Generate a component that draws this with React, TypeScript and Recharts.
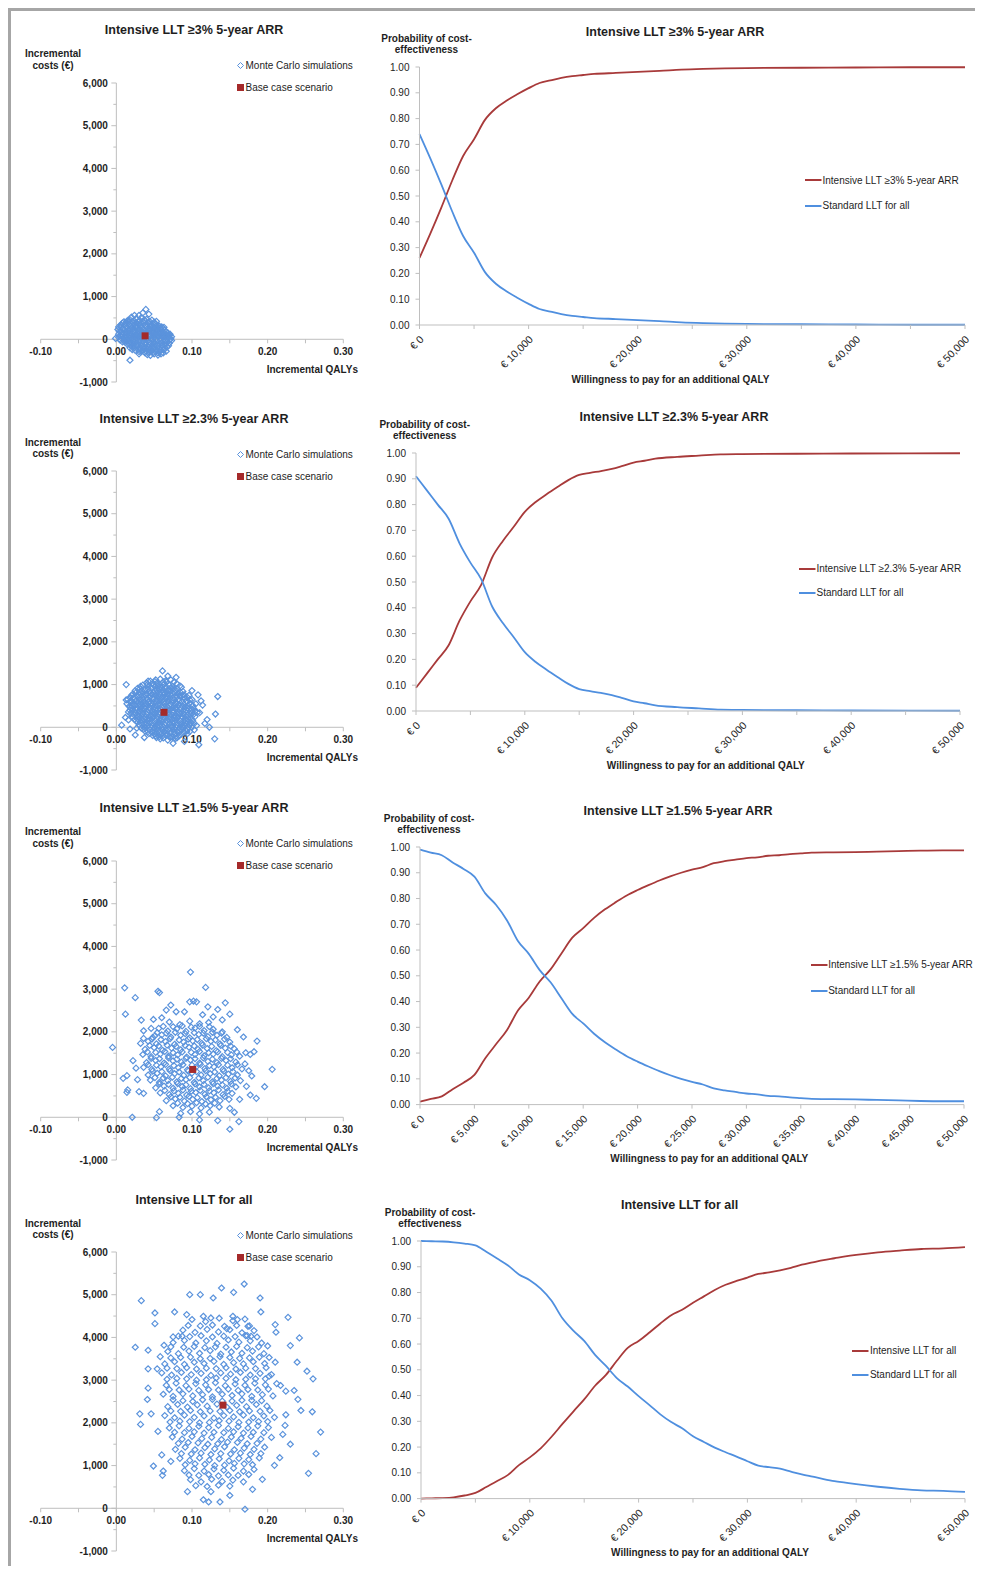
import React from 'react';
import {
  ScatterChart, Scatter, XAxis, YAxis, ReferenceLine, ReferenceDot,
  LineChart, Line, Legend,
} from 'recharts';

const FONT = '"Liberation Sans", Arial, Helvetica, sans-serif';
const RED = '#a83a3a';
const BLUE = '#4f8fdf';
const DOT_BLUE = '#5b93dc';
const BASE_RED = '#a52a2a';
const AXIS = '#bfbfbf';
const TEXT = '#1e1e1e';

// ---------- Axis ticks ----------
const qalyTicks = [-0.1, -0.05, 0, 0.05, 0.1, 0.15, 0.2, 0.25, 0.3];
const costTicks = [-1000, -500, 0, 500, 1000, 1500, 2000, 2500, 3000, 3500, 4000, 4500, 5000, 5500, 6000];
const probTicks = [0, 0.1, 0.2, 0.3, 0.4, 0.5, 0.6, 0.7, 0.8, 0.9, 1];
const wtpTicks = [0, 5000, 10000, 15000, 20000, 25000, 30000, 35000, 40000, 45000, 50000];

// ---------- Titles / names ----------
const titles = [
  'Intensive LLT \u22653% 5-year ARR',
  'Intensive LLT \u22652.3% 5-year ARR',
  'Intensive LLT \u22651.5% 5-year ARR',
  'Intensive LLT for all',
];
const comparator = 'Standard LLT for all';

// ---------- Scatter data: [incremental QALYs x1000, incremental costs €] ----------
const base1 = [38, 80];
const sims1 = [
  [39,700],[43,590],[30,560],
  [20,520],[26,480],[33,510],[40,470],[47,450],[18,460],[53,420],
  [8,380],[14,420],[21,400],[28,360],[35,410],[42,380],[49,350],[56,320],[11,330],[25,300],[31,440],[45,300],[60,290],[3,290],[17,350],
  [2,230],[9,260],[16,200],[22,250],[29,180],[36,240],[43,200],[50,260],[57,170],[64,210],[12,160],[40,150],[26,280],[47,180],[68,150],[33,290],[54,230],
  [-1,20],[6,80],[13,50],[20,120],[27,40],[34,100],[41,30],[48,110],[55,60],[62,90],[69,40],[72,10],[10,130],[24,0],[45,70],[58,130],[31,140],[16,10],[66,120],[52,0],
  [8,-60],[15,-120],[22,-40],[29,-100],[36,-50],[43,-130],[50,-70],[57,-110],[64,-40],[70,-90],[19,-150],[40,-10],[61,-140],[33,-150],[47,-20],
  [18,-200],[25,-260],[32,-220],[39,-280],[46,-190],[53,-250],[60,-210],[67,-180],[28,-170],[43,-300],[57,-290],[36,-170],
  [30,-340],[41,-360],[50,-340],[62,-320],[18,-490],[45,-380],[55,-370],
  [23,170],[38,330],[51,140],[44,250],[35,20],[28,80],[59,20],[21,-90],[37,-230],[49,-150],[14,280],[5,170],[65,-100],[11,-20],[73,60],
  [35,620],[24,560],
  [23,440],[37,460],[44,420],[50,400],[29,420],[15,440],
  [6,340],[19,300],[32,330],[39,300],[46,340],[52,310],[58,270],[13,380],[26,390],[62,250],
  [4,190],[11,220],[19,230],[25,210],[32,200],[38,190],[45,230],[52,200],[59,230],[66,180],[71,120],[7,120],[18,150],[30,230],[42,260],[55,150],[62,140],
  [3,50],[9,40],[17,80],[23,60],[30,70],[37,60],[43,100],[50,40],[56,90],[63,50],[70,80],[12,100],[26,110],[39,120],[53,120],[67,10],[20,20],[47,0],[60,60],[34,60],
  [5,-20],[12,-80],[18,-60],[25,-70],[32,-60],[39,-90],[46,-100],[53,-40],[60,-80],[67,-60],[27,-130],[54,-140],[41,-160],[73,-30],[14,-30],
  [21,-240],[29,-230],[35,-260],[42,-220],[49,-230],[56,-200],[63,-250],[24,-200],[47,-270],[52,-300],[38,-320],[59,-340],[66,-280],[33,-290],
  [10,410],[17,420],[24,350],[31,370],[38,420],[45,360],[52,360],[57,300],
  [6,300],[13,310],[20,270],[27,320],[34,260],[41,300],[48,280],[55,280],[63,280],
  [3,120],[8,170],[15,150],[21,180],[28,140],[35,170],[42,160],[49,190],[56,200],[63,160],[69,110],
  [5,90],[12,20],[19,70],[26,80],[32,30],[39,50],[46,40],[53,80],[60,100],[66,70],[71,-10],
  [10,-40],[17,-100],[24,-110],[31,-20],[38,-130],[44,-60],[51,-110],[58,-30],[65,-130],[69,-150],
  [22,-170],[30,-290],[37,-200],[44,-250],[51,-190],[58,-260],[64,-200],[48,-320],[55,-320],
];

const base2 = [63, 350];
const sims2 = [
  [45,1080],[58,1130],[66,1060],[72,1110],
  [35,990],[48,1030],[55,960],[63,1010],[70,980],[80,1020],
  [28,910],[38,870],[46,930],[53,880],[60,920],[68,860],[76,900],[86,940],
  [22,780],[31,830],[40,790],[49,820],[57,770],[64,810],[72,840],[81,790],[90,760],
  [18,690],[27,730],[35,670],[44,710],[52,740],[60,680],[67,720],[75,690],[84,730],[94,700],
  [20,620],[29,580],[37,610],[46,570],[54,630],[62,590],[70,620],[78,560],[87,600],[97,640],
  [17,490],[25,520],[33,470],[42,510],[50,480],[58,530],[66,490],[74,460],[82,520],[91,480],[101,510],
  [22,410],[30,380],[38,430],[47,390],[55,420],[63,370],[71,410],[79,440],[88,390],[96,420],[104,380],
  [19,320],[27,280],[35,310],[44,270],[52,330],[61,290],[69,310],[77,270],[85,320],[94,290],[102,300],
  [24,180],[32,220],[40,190],[49,230],[57,170],[65,210],[73,190],[81,230],[90,180],[99,210],
  [28,120],[36,80],[45,110],[53,70],[61,130],[70,90],[78,110],[86,70],[95,120],[103,90],
  [33,-20],[41,30],[50,-10],[58,20],[66,-30],[74,10],[83,-20],[91,30],[100,0],
  [38,-90],[47,-120],[55,-80],[63,-110],[72,-130],[80,-90],[89,-120],[97,-100],
  [48,-190],[57,-220],[65,-180],[74,-230],[83,-200],
  [58,-270],[68,-300],[78,-260],
  [13,1000],[13,640],[61,1320],[134,720],[131,310],[130,-270],[109,-410],[75,-375],[7,50],[27,-20],
  [25,-180],[37,-240],[123,0],[90,-330],[79,1170],[68,1200],[108,760],[114,520],[110,340],[42,1080],
  [54,1040],[16,170],[12,230],[120,180],[117,90],[112,620],[100,860],[18,-40],
  [40,1040],[51,1070],[62,1060],[76,1060],
  [32,960],[42,950],[51,960],[58,940],[66,950],[74,960],[84,970],
  [25,860],[34,850],[44,840],[51,850],[61,870],[70,850],[79,860],[88,840],
  [20,750],[30,760],[39,750],[47,770],[55,740],[63,760],[71,770],[79,740],[88,760],[96,750],
  [15,650],[24,660],[32,640],[41,650],[50,660],[58,650],[66,660],[74,640],[82,650],[91,670],[100,650],
  [14,550],[22,560],[31,540],[39,550],[48,540],[56,560],[64,550],[72,540],[80,570],[89,540],[97,560],[105,550],
  [19,450],[27,440],[36,460],[44,450],[52,440],[61,450],[69,450],[77,440],[85,450],[94,450],[102,440],
  [16,360],[25,350],[33,350],[41,360],[50,350],[58,340],[66,360],[75,350],[83,350],[91,360],[100,350],[107,350],
  [21,250],[29,250],[38,240],[46,260],[54,250],[62,240],[71,250],[79,260],[87,240],[96,250],[104,250],
  [26,150],[34,160],[42,150],[51,150],[59,160],[67,150],[75,140],[84,160],[92,150],[101,150],
  [30,50],[39,60],[47,40],[56,50],[64,60],[72,40],[80,50],[89,60],[97,50],[106,40],
  [36,-50],[44,-60],[53,-40],[61,-60],[69,-50],[77,-40],[86,-60],[94,-50],[103,-60],
  [43,-150],[51,-160],[60,-150],[68,-170],[77,-150],[86,-160],[94,-150],
  [53,-240],[62,-250],[71,-240],[80,-250],
  [41,1000],[49,990],[57,1000],[65,1090],[52,1110],
  [31,900],[42,900],[57,900],[64,910],[72,920],[80,900],
  [26,810],[36,810],[45,800],[53,800],[61,800],[68,790],[77,820],[85,810],
  [23,700],[31,700],[40,690],[48,690],[56,700],[64,700],[71,690],[80,710],[89,700],
  [18,600],[25,610],[33,600],[42,590],[50,600],[58,610],[66,590],[74,600],[83,620],[93,610],
  [21,500],[29,500],[38,490],[46,500],[54,500],[62,510],[70,500],[78,510],[87,500],[95,500],
  [18,400],[26,410],[34,400],[43,410],[51,400],[59,400],[67,390],[75,400],[84,410],[92,400],[100,410],
  [23,300],[31,300],[40,300],[48,300],[56,310],[65,300],[73,290],[81,300],[89,310],[98,300],
  [28,200],[36,200],[44,200],[53,200],[61,190],[69,200],[77,210],[86,200],[95,190],
  [32,100],[40,100],[49,90],[57,100],[65,110],[74,100],[82,90],[91,100],[99,100],
  [37,0],[45,10],[54,0],[62,0],[70,-10],[79,0],[87,10],[95,0],
  [42,-100],[51,-100],[59,-100],[67,-90],[76,-110],[84,-100],[93,-90],
  [52,-200],[61,-200],[70,-210],[79,-200],
];

const base3 = [101, 1120];
const sims3 = [
  [70,2230],[84,2170],[97,2250],[110,2190],[122,2220],
  [56,2080],[68,2020],[80,2070],[92,2010],[104,2090],[116,2030],[128,2060],[140,2000],
  [48,1870],[60,1930],[72,1880],[85,1920],[97,1860],[109,1940],[121,1890],[133,1920],[146,1870],
  [42,1780],[53,1720],[65,1770],[77,1710],[89,1760],[101,1790],[113,1730],[125,1780],[137,1720],[150,1760],
  [38,1590],[50,1630],[61,1570],[73,1620],[85,1580],[96,1640],[108,1590],[120,1610],[132,1560],[144,1620],[156,1600],
  [35,1470],[46,1420],[58,1480],[69,1430],[81,1460],[93,1410],[104,1470],[116,1440],[128,1480],[140,1420],[152,1460],[163,1430],
  [40,1280],[52,1330],[63,1270],[75,1320],[86,1290],[98,1340],[110,1270],[121,1310],[133,1280],[145,1330],[158,1290],
  [36,1170],[47,1120],[59,1180],[70,1130],[82,1160],[94,1110],[105,1170],[117,1140],[129,1180],[141,1120],[153,1160],[166,1130],
  [42,990],[54,1030],[65,970],[77,1020],[89,980],[100,1040],[112,990],[124,1020],[136,970],[148,1010],[160,990],
  [45,870],[57,820],[68,860],[80,830],[92,880],[103,820],[115,860],[127,830],[139,870],[151,840],[164,860],
  [52,690],[63,730],[75,680],[87,720],[98,670],[110,710],[122,690],[134,730],[146,680],[158,710],
  [58,570],[70,530],[82,560],[93,520],[105,580],[117,540],[129,570],[141,530],[153,560],
  [66,390],[78,430],[90,380],[101,420],[113,370],[125,410],[137,390],[149,420],
  [75,270],[88,230],[100,260],[112,220],[124,270],[136,240],
  [85,90],[98,130],[110,80],[123,120],
  [98,3400],[11,3030],[25,2800],[12,2415],[55,2950],[57,2920],[118,3040],[33,2275],[36,2025],[46,2080],
  [-5,1636],[22,1325],[9,911],[14,974],[15,640],[14,584],[30,600],[36,560],[21,0],[53,-8],
  [57,132],[83,0],[110,-62],[134,-78],[150,-280],[162,-100],[156,117],[206,1122],[196,716],[185,444],
  [186,1784],[144,2680],[150,2415],[134,2524],[121,2586],[102,2719],[106,2703],[97,2703],[72,2626],[90,2470],
  [182,1535],[177,1472],[171,1511],[179,966],[172,724],[177,522],[163,420],[150,210],[79,2470],[66,2509],
  [49,2290],[51,1909],[36,1846],[32,1730],[128,2350],[140,2280],[160,2050],[168,1880],[26,1150],[28,880],
  [170,1250],[175,1090],[114,2400],[60,2330],
  [62,2130],[75,2120],[87,2140],[99,2110],[110,2130],[123,2120],
  [54,1980],[66,1970],[78,1990],[91,1960],[103,1980],[115,1970],[127,1990],[139,1970],
  [47,1830],[59,1820],[71,1840],[83,1810],[95,1830],[107,1820],[119,1840],[131,1810],[143,1830],
  [44,1680],[56,1670],[67,1690],[79,1660],[91,1680],[103,1670],[114,1690],[126,1660],[138,1680],[151,1670],
  [41,1530],[52,1520],[64,1540],[75,1510],[87,1530],[99,1520],[110,1540],[122,1510],[134,1530],[147,1520],[159,1530],
  [46,1380],[57,1370],[69,1390],[80,1360],[92,1380],[104,1370],[115,1390],[127,1360],[139,1380],[151,1370],
  [42,1230],[53,1220],[65,1240],[76,1210],[88,1230],[100,1220],[111,1240],[123,1210],[135,1230],[147,1220],[160,1230],
  [48,1080],[60,1070],[71,1090],[83,1060],[95,1080],[106,1070],[118,1090],[130,1060],[142,1080],[154,1070],
  [51,930],[62,920],[74,940],[86,910],[97,930],[109,920],[121,940],[133,910],[145,930],[157,920],
  [57,780],[69,770],[81,790],[92,760],[104,780],[116,770],[128,790],[140,760],[152,780],
  [64,630],[76,620],[88,640],[99,610],[111,630],[123,620],[135,640],[147,610],
  [72,480],[84,470],[96,490],[107,460],[119,480],[131,470],[143,490],
  [81,330],[94,320],[106,340],[118,310],[130,330],
];

const base4 = [141, 2415];
const sims4 = [
  [100,4420],[118,4370],[136,4450],[154,4390],[170,4430],
  [88,4170],[104,4120],[120,4190],[135,4130],[150,4180],[166,4110],[182,4160],
  [75,3880],[90,3930],[105,3870],[119,3920],[133,3860],[148,3940],[162,3890],[177,3920],[192,3870],
  [68,3670],[82,3620],[96,3680],[110,3630],[124,3690],[138,3610],[152,3660],[166,3630],[180,3680],[195,3620],
  [64,3380],[77,3430],[90,3370],[103,3420],[116,3390],[129,3440],[142,3370],[155,3410],[168,3380],[181,3430],[196,3390],[210,3420],
  [60,3170],[73,3120],[86,3180],[99,3130],[112,3160],[125,3110],[138,3170],[151,3140],[164,3180],[177,3120],[190,3160],[205,3130],
  [66,2880],[79,2930],[92,2870],[105,2920],[118,2890],[131,2940],[144,2870],[157,2910],[170,2880],[183,2930],[197,2890],[212,2920],
  [62,2670],[75,2620],[88,2680],[101,2630],[114,2660],[127,2610],[140,2670],[153,2640],[166,2680],[179,2620],[193,2660],[207,2630],
  [68,2380],[81,2430],[94,2370],[107,2420],[120,2390],[133,2440],[146,2370],[159,2410],[172,2380],[185,2430],[199,2390],
  [64,2170],[77,2120],[90,2180],[103,2130],[116,2160],[129,2110],[142,2170],[155,2140],[168,2180],[181,2120],[195,2160],[209,2130],
  [70,1880],[83,1930],[96,1870],[109,1920],[122,1890],[135,1940],[148,1870],[161,1910],[174,1880],[187,1930],[201,1890],
  [74,1670],[87,1620],[100,1680],[113,1630],[126,1660],[139,1610],[152,1670],[165,1640],[178,1680],[191,1620],[205,1660],
  [78,1380],[91,1430],[104,1370],[117,1420],[130,1390],[143,1440],[156,1370],[169,1410],[182,1380],[196,1430],
  [84,1170],[97,1120],[110,1180],[123,1130],[136,1160],[149,1110],[162,1170],[175,1140],[189,1180],
  [90,880],[103,930],[116,870],[129,920],[142,890],[155,940],[168,870],[182,910],
  [98,670],[112,620],[126,680],[140,630],[154,660],[168,620],
  [85,3530],[111,3500],[137,3550],[163,3510],[189,3540],
  [80,3040],[106,3000],[132,3050],[158,3010],[184,3030],
  [75,2540],[101,2500],[127,2550],[153,2510],[179,2530],
  [84,2040],[110,2000],[136,2050],[162,2010],[188,2030],
  [95,1540],[121,1500],[147,1550],[173,1510],
  [104,1040],[130,1000],[156,1050],[180,1020],
  [33,4861],[169,5250],[139,5157],[97,5001],[111,5001],[128,4923],[155,5055],[190,4923],[51,4573],[51,4323],
  [77,4596],[93,4534],[191,4596],[227,4471],[211,4121],[242,3988],[25,3770],[42,3700],[63,3817],[75,4012],
  [87,4027],[230,3809],[239,3420],[252,3209],[260,3030],[42,3264],[54,3264],[42,2812],[41,2547],[31,2212],
  [32,1963],[46,2212],[49,989],[62,872],[61,771],[94,390],[125,390],[122,148],[137,148],[170,-23],
  [180,444],[193,678],[254,818],[264,1278],[270,1784],[259,2259],[244,2290],[224,2189],[223,1940],[220,1729],
  [216,1184],[209,1005],[224,2742],[235,2758],[217,2874],[202,3093],[173,4043],[178,4027],[174,4261],[146,4207],
  [115,4495],[125,4456],[154,4495],[160,4417],[55,1800],[60,1250],[72,1100],[230,1500],[240,2550],[58,3550],
  [200,3800],[210,4300],[115,200],[150,300],
  [95,4280],[111,4270],[127,4290],[143,4260],[159,4280],[176,4270],
  [82,4030],[97,4020],[112,4040],[127,4010],[142,4030],[157,4020],[171,4040],[186,4010],
  [72,3780],[89,3770],[103,3790],[117,3760],[131,3780],[145,3770],[159,3790],[173,3760],[188,3780],
  [72,3520],[98,3540],[124,3510],[150,3530],[176,3520],[202,3530],
  [67,3280],[80,3270],[93,3290],[106,3260],[119,3280],[132,3270],[145,3290],[158,3260],[171,3280],[184,3270],[198,3290],
  [67,3020],[93,3030],[119,3010],[145,3040],[171,3020],[197,3030],
  [70,2780],[83,2770],[96,2790],[109,2760],[122,2780],[135,2770],[148,2790],[161,2760],[174,2780],[187,2770],[201,2790],
  [88,2520],[114,2540],[140,2510],[166,2530],[192,2520],
  [72,2280],[85,2270],[98,2290],[111,2260],[124,2280],[137,2270],[150,2290],[163,2260],[176,2280],[190,2270],[203,2290],
  [71,2020],[97,2030],[123,2010],[149,2040],[175,2020],[200,2030],
  [77,1780],[90,1770],[103,1790],[116,1760],[129,1780],[142,1770],[155,1790],[168,1760],[181,1780],[195,1770],
  [82,1520],[108,1530],[134,1510],[160,1540],[186,1520],
  [86,1280],[99,1270],[112,1290],[125,1260],[138,1280],[151,1270],[164,1290],[177,1260],[191,1280],
  [91,1020],[117,1030],[143,1010],[169,1040],
  [96,780],[109,770],[122,790],[135,760],[148,780],[161,770],[175,790],
  [105,530],[120,510],[135,540],[150,520],
];

// ---------- CEAC data ----------
const wtp1 = [0,1000,2000,3000,4000,5000,6000,7000,8000,9000,10000,11000,12000,13000,14000,15000,16000,18000,20000,22000,24000,26000,28000,30000,35000,40000,45000,50000];
const int1 = [.26,.355,.455,.56,.655,.72,.795,.84,.87,.895,.918,.938,.948,.958,.965,.969,.973,.977,.981,.985,.99,.993,.995,.996,.997,.998,.999,.999];
const std1 = [.74,.645,.545,.44,.345,.28,.205,.16,.13,.105,.082,.062,.052,.042,.035,.031,.027,.023,.019,.015,.01,.007,.005,.004,.003,.002,.001,.001];

const wtp2 = [0,1000,2000,3000,4000,5000,6000,7000,8000,9000,10000,11000,12000,13000,14000,15000,16000,17000,18000,19000,20000,21000,22000,24000,26000,28000,30000,35000,40000,50000];
const int2 = [.09,.145,.2,.255,.35,.425,.49,.595,.66,.715,.772,.81,.84,.868,.895,.915,.923,.93,.938,.95,.963,.97,.978,.985,.99,.995,.996,.997,.998,.999];
const std2 = [.91,.855,.8,.745,.65,.575,.51,.405,.34,.285,.228,.19,.16,.132,.105,.085,.077,.07,.062,.05,.037,.03,.022,.015,.01,.005,.004,.003,.002,.001];

const wtp3 = [0,1000,2000,3000,4000,5000,6000,7000,8000,9000,10000,11000,12000,13000,14000,15000,16000,17000,18000,19000,20000,21000,22000,23000,24000,25000,26000,27000,28000,29000,30000,31000,32000,33000,34000,35000,36000,38000,40000,42000,44000,46000,48000,50000];
const int3 = [.012,.022,.032,.06,.085,.115,.18,.235,.29,.365,.415,.478,.525,.587,.648,.685,.725,.758,.786,.812,.833,.852,.87,.886,.9,.912,.922,.937,.945,.951,.957,.96,.966,.968,.972,.975,.978,.979,.98,.982,.984,.986,.987,.987];
const std3 = [.99,.978,.968,.94,.915,.885,.82,.775,.715,.635,.585,.522,.475,.413,.352,.315,.275,.242,.214,.188,.167,.148,.13,.114,.1,.088,.078,.063,.055,.049,.043,.04,.034,.032,.028,.025,.022,.021,.02,.018,.016,.014,.013,.013];

const wtp4 = [0,1000,2000,3000,4000,5000,6000,7000,8000,9000,10000,11000,12000,13000,14000,15000,16000,17000,18000,19000,20000,21000,22000,23000,24000,25000,26000,27000,28000,29000,30000,31000,32000,33000,34000,35000,36000,37000,38000,39000,40000,42000,44000,46000,48000,50000];
const int4 = [0,.001,.002,.005,.012,.022,.045,.068,.092,.13,.16,.195,.24,.29,.338,.385,.438,.48,.535,.585,.612,.645,.68,.712,.733,.76,.785,.81,.83,.845,.858,.872,.878,.886,.896,.908,.917,.926,.933,.94,.946,.956,.963,.969,.971,.976];
const std4 = [1,.999,.998,.995,.99,.983,.958,.932,.905,.87,.848,.815,.768,.7,.652,.612,.558,.515,.468,.435,.398,.363,.327,.297,.273,.242,.22,.198,.18,.163,.145,.128,.122,.116,.105,.094,.085,.076,.068,.062,.056,.046,.038,.032,.03,.026];

// ---------- helpers ----------
const Txt = ({ x, y, size = 10, bold = false, anchor = 'middle', children }: any) => {
  const tx = anchor === 'middle' ? '-50%' : anchor === 'end' ? '-100%' : '0';
  return (
    <div
      style={{
        position: 'absolute', left: x - 8, top: y - 8 - size * 0.6,
        fontSize: size, lineHeight: `${size * 1.2}px`, fontWeight: bold ? 700 : 400,
        fontFamily: FONT, color: TEXT, whiteSpace: 'nowrap', transform: `translateX(${tx})`,
      }}
    >
      {children}
    </div>
  );
};

const Diamond = (p: any) => {
  const { cx, cy } = p;
  const r = 3;
  return <path d={`M${cx} ${cy - r}L${cx + r} ${cy}L${cx} ${cy + r}L${cx - r} ${cy}Z`} fill="none" stroke={DOT_BLUE} strokeWidth={1.2} />;
};
const Square = (p: any) => {
  const { cx, cy } = p;
  return <rect x={cx - 3.5} y={cy - 3.5} width={7} height={7} fill={BASE_RED} />;
};

const CostTick = (p: any) => {
  const { cx, cy, v } = p;
  const major = v % 1000 === 0;
  return (
    <g>
      <line x1={cx - (major ? 5 : 3)} x2={cx} y1={cy} y2={cy} stroke={AXIS} strokeWidth={1} />
      {major && (
        <text x={cx - 8.5} y={cy} dy={3.6} textAnchor="end" fontSize={10} fontWeight={700} fill={TEXT} fontFamily={FONT}>
          {v.toLocaleString('en-US')}
        </text>
      )}
    </g>
  );
};
const QalyTick = (p: any) => {
  const { cx, cy, v } = p;
  const major = Math.abs(v * 10 - Math.round(v * 10)) < 1e-9;
  return (
    <g>
      <line x1={cx} x2={cx} y1={cy} y2={cy + 4} stroke={AXIS} strokeWidth={1} />
      {major && (
        <text x={cx} y={cy + 16} textAnchor="middle" fontSize={10} fontWeight={700} fill={TEXT} fontFamily={FONT}>
          {v.toFixed(2)}
        </text>
      )}
    </g>
  );
};

const ScatterLegendContent = () => (
  <div style={{ fontFamily: FONT, fontSize: 10, color: TEXT }}>
    <div style={{ height: 22, display: 'flex', alignItems: 'center' }}>
      <svg width={9} height={9} style={{ display: 'block' }}>
        <path d="M4.5 1.5L7.5 4.5L4.5 7.5L1.5 4.5Z" fill="none" stroke={DOT_BLUE} strokeWidth={1} />
      </svg>
      <span style={{ marginLeft: 1 }}>Monte Carlo simulations</span>
    </div>
    <div style={{ height: 22, display: 'flex', alignItems: 'center' }}>
      <svg width={9} height={9} style={{ display: 'block' }}>
        <rect x={1} y={1} width={7} height={7} fill={BASE_RED} />
      </svg>
      <span style={{ marginLeft: 1 }}>Base case scenario</span>
    </div>
  </div>
);

function ScatterPanel({ title, sims, base, y6000 }: any) {
  const mTop = 60;
  const top = y6000 - 8 - mTop;
  const data = sims.map(([q, c]: number[]) => ({ q: q / 1000, c }));
  const baseData = [{ q: base[0] / 1000, c: base[1] }];
  const y0 = y6000 + 256.3;
  return (
    <>
      <div style={{ position: 'absolute', left: 0, top, width: 362, height: 379 }}>
        <ScatterChart width={362} height={379} margin={{ top: mTop, right: 26.7, bottom: 20, left: 32.7 }}>
          <XAxis type="number" dataKey="q" domain={[-0.1, 0.3]} hide allowDataOverflow />
          <YAxis type="number" dataKey="c" domain={[-1000, 6000]} hide allowDataOverflow />
          <ReferenceLine x={0} stroke={AXIS} strokeWidth={1} />
          <ReferenceLine y={0} stroke={AXIS} strokeWidth={1} />
          {costTicks.map((v) => (
            <ReferenceDot key={'c' + v} x={0} y={v} shape={(p: any) => <CostTick {...p} v={v} />} />
          ))}
          {qalyTicks.map((v) => (
            <ReferenceDot key={'q' + v} x={v} y={0} shape={(p: any) => <QalyTick {...p} v={v} />} />
          ))}
          <Scatter name="Monte Carlo simulations" data={data} shape={Diamond} isAnimationActive={false} />
          <Scatter name="Base case scenario" data={baseData} shape={Square} isAnimationActive={false} />
          <Legend
            layout="vertical" align="center" verticalAlign="middle"
            wrapperStyle={{ left: 227.5, top: 32, width: 134, height: 44 }}
            content={() => <ScatterLegendContent />}
          />
        </ScatterChart>
      </div>
      <Txt x={194} y={y6000 - 52} size={12.5} bold>{title}</Txt>
      <Txt x={53} y={y6000 - 28.4} bold>Incremental</Txt>
      <Txt x={53} y={y6000 - 17} bold>costs (€)</Txt>
      <Txt x={358} y={y0 + 30.7} bold anchor="end">Incremental QALYs</Txt>
    </>
  );
}

const fmtWtp = (v: number) => (v === 0 ? '€ 0' : '€ ' + v.toLocaleString('en-US'));

const WtpTick = (p: any) => {
  const { x, y, payload, every } = p;
  const v = payload.value;
  if (v % every !== 0) return <g />;
  return (
    <g transform={`translate(${x + 5},${y + 9})`}>
      <text x={0} y={0} textAnchor="end" transform="rotate(-45)" fontSize={10.5} fill={TEXT} fontFamily={FONT}>
        {fmtWtp(v)}
      </text>
    </g>
  );
};

function LinePanel({ idx, wtp, ints, stds, plotTop, plotBottom, plotLeft, plotRight, titleX, yLabX, xLabX, legX, legRel, legGap, every }: any) {
  const mTop = 60;
  const chartLeftPage = 370;
  const W = 610;
  const plotH = plotBottom - plotTop;
  const H = mTop + plotH + 50 + 8;
  const data = wtp.map((w: number, i: number) => ({ w, a: ints[i], s: stds[i] }));
  const legendItems = [
    { name: titles[idx], color: RED },
    { name: comparator, color: BLUE },
  ];
  return (
    <>
      <div style={{ position: 'absolute', left: chartLeftPage - 8, top: plotTop - 8 - mTop, width: W, height: H }}>
        <LineChart
          width={W} height={H} data={data}
          margin={{ top: mTop, right: chartLeftPage + W - plotRight, bottom: 8, left: 0 }}
        >
          <XAxis
            type="number" dataKey="w" domain={[0, 50000]} ticks={wtpTicks} interval={0}
            height={50} stroke={AXIS} tickSize={4} tickLine={{ stroke: AXIS }}
            tick={(p: any) => <WtpTick {...p} every={every} />}
          />
          <YAxis
            type="number" domain={[0, 1]} ticks={probTicks} interval={0}
            width={plotLeft - chartLeftPage} stroke={AXIS} tickSize={4} tickMargin={6}
            tickFormatter={(v: number) => v.toFixed(2)}
            tick={{ fontSize: 10, fill: TEXT, fontFamily: FONT }}
          />
          <Line type="monotone" dataKey="a" name={titles[idx]} stroke={RED} strokeWidth={1.8} dot={false} isAnimationActive={false} />
          <Line type="monotone" dataKey="s" name={comparator} stroke={BLUE} strokeWidth={1.8} dot={false} isAnimationActive={false} />
          <Legend
            layout="vertical" align="center" verticalAlign="middle"
            wrapperStyle={{ left: legX - chartLeftPage, top: mTop + legRel - legGap / 2, width: 180, height: legGap * 2 }}
            content={() => (
              <div style={{ fontFamily: FONT, fontSize: 10, color: TEXT }}>
                {legendItems.map((it) => (
                  <div key={it.name} style={{ height: legGap, display: 'flex', alignItems: 'center' }}>
                    <svg width={17} height={6} style={{ display: 'block' }}>
                      <line x1={0} x2={16.5} y1={3} y2={3} stroke={it.color} strokeWidth={2} />
                    </svg>
                    <span style={{ marginLeft: 0.5, whiteSpace: 'nowrap' }}>{it.name}</span>
                  </div>
                ))}
              </div>
            )}
          />
        </LineChart>
      </div>
      <Txt x={titleX} y={plotTop - 35} size={12.5} bold>{titles[idx]}</Txt>
      <Txt x={yLabX} y={plotTop - 28.2} bold>Probability of cost-</Txt>
      <Txt x={yLabX} y={plotTop - 17} bold>effectiveness</Txt>
      <Txt x={xLabX} y={plotBottom + 55} bold>Willingness to pay for an additional QALY</Txt>
    </>
  );
}

export default function App() {
  return (
    <div style={{ position: 'relative', width: 967, height: 1558, background: '#fff', fontFamily: FONT }}>
      <div style={{ position: 'absolute', left: 0, top: 0, width: 975, height: 3, background: '#a6a6a6' }} />
      <div style={{ position: 'absolute', left: 0, top: 0, width: 3, height: 1566, background: '#a6a6a6' }} />

      <ScatterPanel title={titles[0]} sims={sims1} base={base1} y6000={82.7} />
      <ScatterPanel title={titles[1]} sims={sims2} base={base2} y6000={471} />
      <ScatterPanel title={titles[2]} sims={sims3} base={base3} y6000={860.7} />
      <ScatterPanel title={titles[3]} sims={sims4} base={base4} y6000={1252.3} />

      <LinePanel idx={0} wtp={wtp1} ints={int1} stds={std1} plotTop={67.3} plotBottom={325.3} plotLeft={419.5} plotRight={965}
        titleX={675} yLabX={426.5} xLabX={670.5} legX={805} legRel={113} legGap={25.7} every={10000} />
      <LinePanel idx={1} wtp={wtp2} ints={int2} stds={std2} plotTop={452.7} plotBottom={710.7} plotLeft={416} plotRight={960}
        titleX={674} yLabX={424.7} xLabX={705.8} legX={799} legRel={116.3} legGap={23.7} every={10000} />
      <LinePanel idx={2} wtp={wtp3} ints={int3} stds={std3} plotTop={846.7} plotBottom={1104.3} plotLeft={420} plotRight={964}
        titleX={678} yLabX={429} xLabX={709.3} legX={810.7} legRel={118.3} legGap={26} every={5000} />
      <LinePanel idx={3} wtp={wtp4} ints={int4} stds={std4} plotTop={1240.7} plotBottom={1498.3} plotLeft={421} plotRight={965}
        titleX={679.6} yLabX={430} xLabX={710} legX={852.4} legRel={110.3} legGap={24} every={10000} />
    </div>
  );
}
